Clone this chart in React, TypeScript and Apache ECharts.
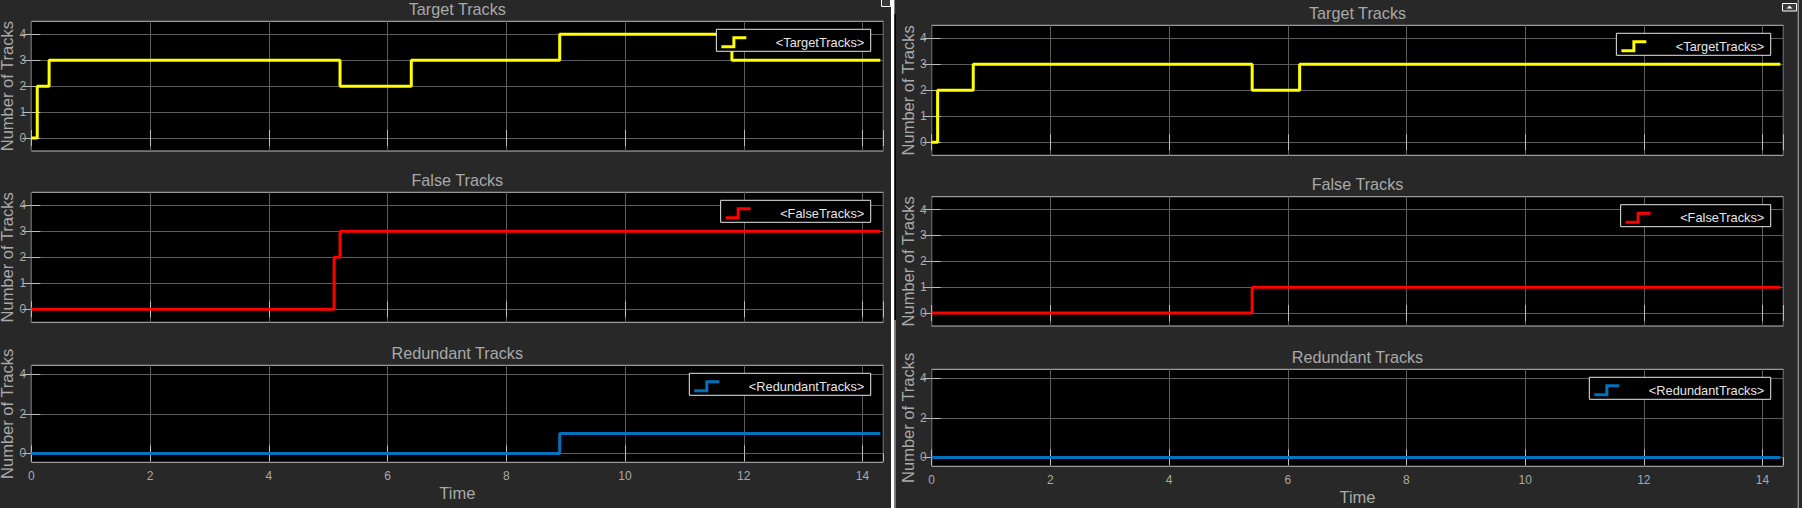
import React, { useEffect, useRef } from 'react';
import * as echarts from 'echarts';

// ---------- data ----------
const X_MAX = 14.35;
const xInterval = 2;

const leftTargetT = [0, 0.1, 0.3, 5.2, 6.4, 8.9, 11.8, 14.3];
const leftTargetV = [0, 2, 3, 2, 3, 4, 3, 3];
const leftFalseT = [0, 5.1, 5.2, 14.3];
const leftFalseV = [0, 2, 3, 3];
const leftRedundantT = [0, 8.9, 14.3];
const leftRedundantV = [0, 1, 1];

const rightTargetT = [0, 0.1, 0.7, 5.4, 6.2, 14.3];
const rightTargetV = [0, 2, 3, 2, 3, 3];
const rightFalseT = [0, 5.4, 14.3];
const rightFalseV = [0, 1, 1];
const rightRedundantT = [0, 14.3];
const rightRedundantV = [0, 0];

const yTicksCount = [0, 1, 2, 3, 4];
const yTicksRedundant = [0, 2, 4];

const titles = ['Target Tracks', 'False Tracks', 'Redundant Tracks', 'Target Tracks', 'False Tracks', 'Redundant Tracks'];
const seriesNames = ['<TargetTracks>', '<FalseTracks>', '<RedundantTracks>', '<TargetTracks>', '<FalseTracks>', '<RedundantTracks>'];
const seriesColors = ['#ffff00', '#ff0000', '#0072bd', '#ffff00', '#ff0000', '#0072bd'];
const yAxisTitle = 'Number of Tracks';
const xAxisTitle = 'Time';

// ---------- layout / style ----------
const grids = [
  { left: 31.3, top: 21.3, width: 852, height: 129.7 },
  { left: 31.3, top: 192.3, width: 852, height: 130 },
  { left: 31.3, top: 365.3, width: 852, height: 97 },
  { left: 931.7, top: 25.3, width: 851.6, height: 130 },
  { left: 931.7, top: 196.7, width: 851.6, height: 129.3 },
  { left: 931.7, top: 369.3, width: 851.6, height: 97 },
];
const yRanges = [
  [-0.5, 4.5], [-0.5, 4.5], [-0.45, 4.45],
  [-0.5, 4.5], [-0.5, 4.5], [-0.45, 4.45],
];
const BG = '#282828';
const TEXT = '#a9a9a9';
const GRIDLINE = '#5c5c5c';
const TICK = '#bdbdbd';
const BOX = '#bdbdbd';
const FONT = '"Liberation Sans", Arial, Helvetica, sans-serif';
const STEP_ICON = 'path://M0 9 L11 9 L11 0 L25 0 L25 3 L14 3 L14 12 L0 12 Z';

const App: React.FC = () => {
  const ref = useRef<HTMLDivElement>(null);

  useEffect(() => {
    if (!ref.current) return;
    const chart = echarts.init(ref.current, undefined, { renderer: 'svg' });

    const seriesData = [
      [leftTargetT, leftTargetV],
      [leftFalseT, leftFalseV],
      [leftRedundantT, leftRedundantV],
      [rightTargetT, rightTargetV],
      [rightFalseT, rightFalseV],
      [rightRedundantT, rightRedundantV],
    ].map(([t, v]) => t.map((x, i) => [x, v[i]]));

    const xAxes: any[] = [];
    const yAxes: any[] = [];
    grids.forEach((g, gi) => {
      const isBottom = gi % 3 === 2;
      xAxes.push({
        type: 'value', gridIndex: gi, position: 'bottom', min: 0, max: X_MAX, interval: xInterval,
        axisLine: { show: false },
        axisTick: { show: true, inside: true, length: 8, lineStyle: { color: TICK } },
        splitLine: { show: true, lineStyle: { color: GRIDLINE, width: 1 } },
        axisLabel: { show: isBottom, color: TEXT, fontSize: 12, fontFamily: FONT, margin: 8, showMaxLabel: false },
        name: isBottom ? xAxisTitle : '',
        nameLocation: 'middle', nameGap: 22,
        nameTextStyle: { color: TEXT, fontSize: 16.5, fontFamily: FONT },
      });
      xAxes.push({
        type: 'value', gridIndex: gi, position: 'top', min: 0, max: X_MAX, interval: xInterval,
        axisLine: { show: false },
        axisTick: { show: true, inside: true, length: 8, lineStyle: { color: TICK } },
        splitLine: { show: false },
        axisLabel: { show: false },
      });
      const ticks = gi % 3 === 2 ? yTicksRedundant : yTicksCount;
      const [ymin, ymax] = yRanges[gi];
      yAxes.push({
        type: 'value', gridIndex: gi, position: 'left', min: ymin, max: ymax,
        axisLine: { show: false },
        axisTick: { show: true, inside: true, length: 9, customValues: ticks, lineStyle: { color: TICK } },
        splitLine: { show: true, lineStyle: { color: GRIDLINE, width: 1 } },
        axisLabel: { show: true, customValues: ticks, color: TEXT, fontSize: 12, fontFamily: FONT, margin: 5 },
        name: yAxisTitle, nameLocation: 'middle', nameGap: 12.5, nameRotate: 90,
        nameTextStyle: { color: TEXT, fontSize: 16.5, fontFamily: FONT },
      });
      yAxes.push({
        type: 'value', gridIndex: gi, position: 'right', min: ymin, max: ymax,
        axisLine: { show: false },
        axisTick: { show: true, inside: true, length: 9, customValues: ticks, lineStyle: { color: TICK } },
        splitLine: { show: false },
        axisLabel: { show: false },
      });
    });

    const series = seriesData.map((data, gi) => ({
      type: 'line', name: seriesNames[gi], data, step: 'end',
      xAxisIndex: gi * 2, yAxisIndex: gi * 2,
      showSymbol: false, symbol: 'none',
      color: seriesColors[gi],
      lineStyle: { width: 3, color: seriesColors[gi] },
      itemStyle: { color: seriesColors[gi] },
      clip: false,
    }));

    const legends = grids.map((g, gi) => ({
      data: [{ name: seriesNames[gi], icon: STEP_ICON }],
      right: 1802 - (g.left + g.width) + 12.6,
      top: g.top + 8,
      orient: 'vertical',
      backgroundColor: '#000',
      borderColor: '#e8e8e8', borderWidth: 1, borderRadius: 0,
      padding: [6.5, 6.4, 2.5, 5],
      itemWidth: 25, itemHeight: 12,
      itemStyle: { borderWidth: 0 },
      selectedMode: false,
      textStyle: { color: '#e6e6e6', fontSize: 12.8, fontFamily: FONT, padding: [0, 0, 0, 24.5], lineHeight: 13 },
    }));

    const graphics: any[] = [];
    grids.forEach((g, gi) => {
      graphics.push({
        type: 'text', x: g.left + g.width / 2, y: g.top - 12.3, silent: true,
        style: { text: titles[gi], align: 'center', verticalAlign: 'middle', fill: TEXT, font: `16.2px ${FONT}` },
      });
    });
    // panel separator & window chrome
    graphics.push({ type: 'rect', shape: { x: 891, y: 0, width: 3.4, height: 508 }, style: { fill: '#ffffff' }, silent: true });
    graphics.push({ type: 'rect', shape: { x: 894.4, y: 14, width: 1.6, height: 306 }, style: { fill: '#000000' }, silent: true });
    graphics.push({ type: 'rect', shape: { x: 894.6, y: 320, width: 1.2, height: 188 }, style: { fill: '#8a8a8a' }, silent: true });
    graphics.push({ type: 'rect', shape: { x: 881.5, y: -1, width: 9, height: 7.5 }, style: { fill: '#3a3a3a', stroke: '#ffffff', lineWidth: 1 }, silent: true });
    graphics.push({ type: 'rect', shape: { x: 1782.5, y: 3.5, width: 14, height: 7.5 }, style: { fill: '#3a3a3a', stroke: '#ffffff', lineWidth: 1 }, silent: true });
    graphics.push({ type: 'polygon', shape: { points: [[1786.5, 8.5], [1789.5, 5.5], [1792.5, 8.5]] }, style: { fill: '#ffffff' }, silent: true });
    graphics.push({ type: 'rect', shape: { x: 1797.6, y: 0, width: 1.4, height: 508 }, style: { fill: '#8f8f8f' }, silent: true });

    chart.setOption({
      animation: false,
      backgroundColor: BG,
      grid: grids.map((g) => ({
        ...g, show: true, backgroundColor: '#000', borderColor: BOX, borderWidth: 1,
        containLabel: false, outerBoundsMode: 'none',
      })),
      xAxis: xAxes,
      yAxis: yAxes,
      legend: legends,
      series,
      graphic: { elements: graphics },
    });

    return () => chart.dispose();
  }, []);

  return (
    <div
      ref={ref}
      style={{ position: 'fixed', left: 0, top: 0, width: 1802, height: 508, background: BG }}
    />
  );
};

export default App;
